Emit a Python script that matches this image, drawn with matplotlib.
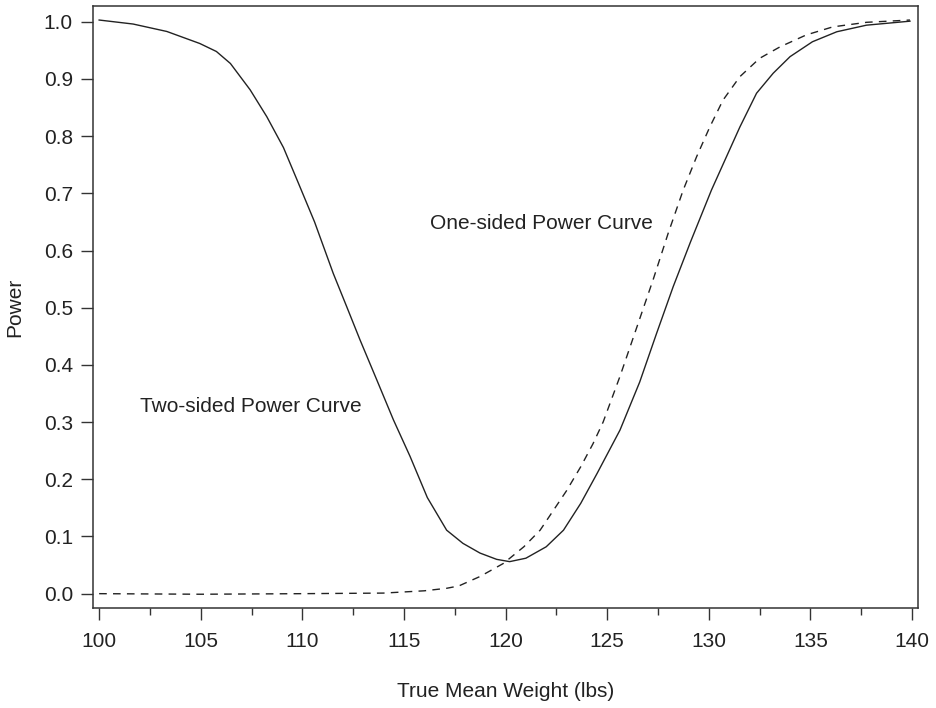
import matplotlib
matplotlib.use("Agg")
import matplotlib.pyplot as plt
from matplotlib.ticker import MultipleLocator

plt.rcParams['font.family'] = ['Liberation Sans', 'DejaVu Sans']

# Two-sided test power curve (solid)
two_sided_weight = [100.0, 101.67, 103.33, 104.95, 105.77, 106.46, 107.43, 108.25,
                    109.07, 109.75, 110.6, 111.52, 112.18, 112.84, 113.66, 114.48,
                    115.3, 116.15, 117.1, 117.9, 118.74, 119.56, 120.2, 121.0,
                    122.0, 122.85, 123.7, 124.5, 125.63, 126.6, 127.43, 128.25,
                    129.1, 130.13, 130.87, 131.53, 132.35, 133.17, 134.0, 135.1,
                    136.3, 137.76, 139.9]
two_sided_power = [1.003, 0.996, 0.983, 0.962, 0.948, 0.927, 0.881, 0.834,
                   0.780, 0.7225, 0.65, 0.560, 0.502, 0.4435, 0.374, 0.304,
                   0.240, 0.168, 0.111, 0.088, 0.071, 0.060, 0.056, 0.062,
                   0.082, 0.111, 0.158, 0.210, 0.286, 0.370, 0.455, 0.537,
                   0.615, 0.7056, 0.764, 0.816, 0.875, 0.910, 0.939, 0.965,
                   0.9825, 0.994, 1.001]

# One-sided test power curve (dashed)
one_sided_weight = [100.0, 105.0, 110.0, 113.99, 116.0, 117.1, 117.7, 118.74,
                    119.9, 120.9, 121.7, 122.36, 123.0, 123.7, 124.3, 124.8,
                    125.63, 126.45, 127.27, 128.0, 128.74, 129.4, 130.05, 130.7,
                    131.53, 132.5, 133.5, 134.8, 136.1, 137.76, 139.9]
one_sided_power = [0.0, -0.001, 0.0, 0.001, 0.005, 0.0094, 0.0135, 0.030,
                   0.053, 0.082, 0.111, 0.146, 0.180, 0.222, 0.262, 0.300,
                   0.380, 0.465, 0.550, 0.630, 0.7056, 0.764, 0.816, 0.863,
                   0.904, 0.936, 0.956, 0.977, 0.991, 0.999, 1.003]

x_ticks = [100, 105, 110, 115, 120, 125, 130, 135, 140]
y_ticks = [0.0, 0.1, 0.2, 0.3, 0.4, 0.5, 0.6, 0.7, 0.8, 0.9, 1.0]

ink = '#222222'
fig = plt.figure(figsize=(9.37, 7.08), dpi=100)
ax = fig.add_axes([0.0993, 0.1417, 0.9794 - 0.0993, 0.9911 - 0.1417])

ax.plot(two_sided_weight, two_sided_power, color=ink, lw=1.0)
ax.plot(one_sided_weight, one_sided_power, color=ink, lw=1.0,
        linestyle=(0, (5.5, 4.5)))

ax.text(102.0, 0.327, 'Two-sided Power Curve', fontsize=15, color=ink,
        ha='left', va='center')
ax.text(116.28, 0.6475, 'One-sided Power Curve', fontsize=15, color=ink,
        ha='left', va='center')

ax.set_xlim(99.7, 140.28)
ax.set_ylim(-0.0245, 1.027)
ax.set_xticks(x_ticks)
ax.set_xticklabels([str(t) for t in x_ticks])
ax.set_yticks(y_ticks)
ax.set_yticklabels([f'{t:.1f}' for t in y_ticks])
ax.xaxis.set_minor_locator(MultipleLocator(2.5))

ax.tick_params(axis='both', which='major', direction='out', length=8.5,
               width=1.0, color='#333333', labelsize=15, labelcolor=ink)
ax.tick_params(axis='x', which='major', pad=9)
ax.tick_params(axis='y', which='major', pad=6)
ax.tick_params(axis='x', which='minor', direction='out', length=5, width=1.0,
               color='#333333')

for s in ax.spines.values():
    s.set_color('#333333')
    s.set_linewidth(1.1)

ax.set_xlabel('True Mean Weight (lbs)', fontsize=15, color=ink, labelpad=22)
ax.set_ylabel('Power', fontsize=15, color=ink, labelpad=14)

fig.savefig('out.png', dpi=100)
